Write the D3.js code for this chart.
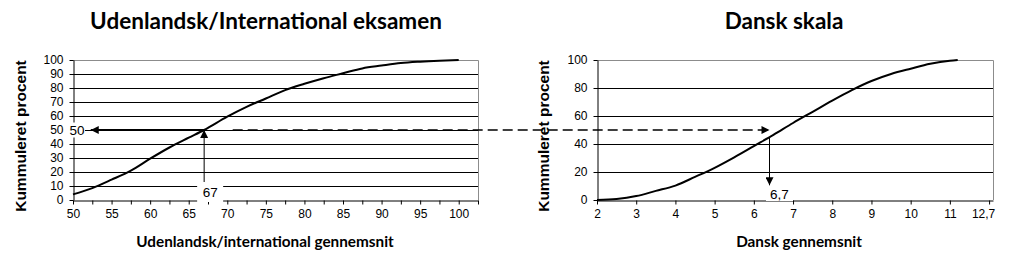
<!DOCTYPE html>
<html>
<head>
<meta charset="utf-8">
<script src="https://cdn.jsdelivr.net/npm/d3@7"></script>
<style>
  body { margin: 0; background: #fff; }
  svg text { font-family: "Liberation Sans", Arial, sans-serif; }
  .title, .xtitle { font-family: Lato, "Open Sans", sans-serif; font-weight: bold; }
</style>
</head>
<body>
<svg id="chart" width="1010" height="259"></svg>
<script>
// left chart: udenlandsk/international eksamen
const intlX = [50, 52.5, 55, 57.5, 60, 62.5, 65, 67, 70, 72.5, 75, 77.5, 80, 82.5, 85, 87.5, 90, 92.5, 95, 97.5, 100];
const intlY = [4, 8.5, 14.5, 21, 29.5, 37.5, 44.5, 50, 59.5, 66.5, 72.5, 78.5, 83, 87, 90.5, 94, 96, 97.8, 98.8, 99.5, 100];
const intlTicks = [50, 55, 60, 65, 70, 75, 80, 85, 90, 95, 100];
const intlYTicks = [0, 10, 20, 30, 40, 50, 60, 70, 80, 90, 100];

// right chart: dansk skala
const dkX = [2, 2.5, 3, 3.5, 4, 4.5, 5, 5.5, 6, 6.5, 7, 7.5, 8, 8.5, 9, 9.5, 10, 10.5, 11, 11.2];
const dkY = [0, 0.7, 2.8, 6.5, 10.3, 16.5, 23, 30.5, 38.5, 46.5, 55, 63, 71, 78.5, 85, 90, 93.8, 97.3, 99.5, 100];
const dkTicks = [2, 3, 4, 5, 6, 7, 8, 9, 10, 11, 12];
const dkTickLabels = ["2", "3", "4", "5", "6", "7", "8", "9", "10", "11", "12,7"];
const dkYTicks = [0, 20, 40, 60, 80, 100];

// annotation: median 67 -> 50 % -> 6,7
const intlMedian = 67, medianPct = 50;
const dkMedian = 6.4, dkMedianLabel = "6,7";

const svg = d3.select("#chart");

const defs = svg.append("defs");
defs.append("marker")
  .attr("id", "head")
  .attr("viewBox", "0 0 10 10")
  .attr("refX", 10).attr("refY", 5)
  .attr("markerUnits", "userSpaceOnUse")
  .attr("markerWidth", 9).attr("markerHeight", 8)
  .attr("orient", "auto")
  .append("path").attr("d", "M0,0L10,5L0,10Z").attr("fill", "#000");

const plotTop = 60, plotBottom = 200;
const y = d3.scaleLinear().domain([0, 100]).range([plotBottom, plotTop]);

function panel(x, xs, ys, xTicks, xMinor, xFormat, yTicks, titleText, titleX, xTitle, xTitleX, yTitleX) {
  const g = svg.append("g");
  const [x0, x1] = x.range();

  // gridlines
  g.selectAll(".grid").data(yTicks.slice(1, -1)).join("line")
    .attr("x1", x0).attr("x2", x1)
    .attr("y1", d => y(d) + 0.5).attr("y2", d => y(d) + 0.5)
    .attr("stroke", "#000").attr("stroke-width", 1);

  // top + right border
  g.append("path")
    .attr("d", `M${x0},${plotTop + 0.5}H${x1 + 0.5}V${plotBottom}`)
    .attr("fill", "none").attr("stroke", "#8c8c8c");

  // curve
  g.append("path")
    .datum(xs.map((d, i) => [d, ys[i]]))
    .attr("fill", "none").attr("stroke", "#000").attr("stroke-width", 2)
    .attr("d", d3.line().curve(d3.curveMonotoneX).x(d => x(d[0])).y(d => y(d[1])));

  // y axis
  const ya = g.append("g")
    .attr("transform", `translate(${x0 + 0.5},0)`)
    .call(d3.axisLeft(y).tickValues(yTicks).tickSize(4).tickPadding(6).tickSizeOuter(0));
  ya.select(".domain").attr("stroke", "#000");
  ya.selectAll("text").attr("font-size", 12).attr("fill", "#000");

  // x axis
  const xa = g.append("g")
    .attr("transform", `translate(0,${plotBottom + 0.5})`)
    .call(d3.axisBottom(x).tickValues(xMinor).tickSize(4).tickFormat("").tickSizeOuter(0));
  xa.select(".domain").attr("stroke", "#000");
  g.append("g")
    .attr("transform", `translate(0,${plotBottom + 0.5})`)
    .call(d3.axisBottom(x).tickValues(xTicks).tickSize(0).tickPadding(9).tickFormat(xFormat))
    .call(a => a.select(".domain").remove())
    .selectAll("text").attr("font-size", 12).attr("fill", "#000");

  svg.append("text").attr("class", "title")
    .attr("x", titleX).attr("y", 29).attr("text-anchor", "middle")
    .attr("font-size", 22.5).text(titleText);

  svg.append("text").attr("class", "xtitle")
    .attr("x", xTitleX).attr("y", 247).attr("text-anchor", "middle")
    .attr("font-size", 15.3).text(xTitle);

  svg.append("text")
    .attr("transform", `translate(${yTitleX},${(plotTop + plotBottom) / 2 + 6}) rotate(-90)`)
    .attr("text-anchor", "middle").attr("font-size", 15.5).attr("font-weight", "bold")
    .text("Kummuleret procent");

  return g;
}

const xIntl = d3.scaleLinear().domain([50, 102.5]).range([73, 478]);
const xDk = d3.scaleLinear().domain([2, 12.1]).range([597, 993]);

panel(xIntl, intlX, intlY, intlTicks, d3.range(50, 103, 2.5), d => d,
  intlYTicks, "Udenlandsk/International eksamen", 266, "Udenlandsk/international gennemsnit", 265, 26);
const dkPanel = panel(xDk, dkX, dkY, dkTicks, dkTicks, (d, i) => dkTickLabels[i],
  dkYTicks, "Dansk skala", 784, "Dansk gennemsnit", 799, 549);
// last label sits a little left of its tick, as in the original
dkPanel.selectAll("text").filter(d => d === 12).attr("dx", -6);

// annotations
const ann = svg.append("g");
const ym = y(medianPct);

// 50 % arrow to the left axis
ann.append("line")
  .attr("x1", xIntl(intlMedian)).attr("y1", ym)
  .attr("x2", xIntl(52.3)).attr("y2", ym)
  .attr("stroke", "#000").attr("stroke-width", 2).attr("marker-end", "url(#head)");
// up from 67
ann.append("line")
  .attr("x1", xIntl(intlMedian)).attr("y1", y(8.5))
  .attr("x2", xIntl(intlMedian)).attr("y2", ym)
  .attr("stroke", "#000").attr("stroke-width", 1).attr("marker-end", "url(#head)");
// dashed across to the danish curve
ann.append("line")
  .attr("x1", xIntl(70.7)).attr("y1", ym)
  .attr("x2", xDk(dkMedian)).attr("y2", ym)
  .attr("stroke", "#000").attr("stroke-width", 1.3).attr("stroke-dasharray", "10,5")
  .attr("marker-end", "url(#head)");
// down to 6,7
const dkAt = d3.scaleLinear().domain(dkX).range(dkY)(dkMedian);
ann.append("line")
  .attr("x1", xDk(dkMedian)).attr("y1", y(dkAt))
  .attr("x2", xDk(dkMedian)).attr("y2", y(10.5))
  .attr("stroke", "#000").attr("stroke-width", 1).attr("marker-end", "url(#head)");

function label(cx, cy, w, h, txt) {
  ann.append("rect").attr("x", cx - w / 2).attr("y", cy - h / 2)
    .attr("width", w).attr("height", h).attr("fill", "#fff");
  ann.append("text").attr("x", cx).attr("y", cy + 5).attr("text-anchor", "middle")
    .attr("font-size", 13.5).text(txt);
}
label(xIntl(50) + 4, ym, 16, 15, medianPct);
label(xIntl(intlMedian) + 6, 192, 26, 20, intlMedian);
label(xDk(dkMedian) + 10, 194, 27, 14, dkMedianLabel);
</script>
</body>
</html>
